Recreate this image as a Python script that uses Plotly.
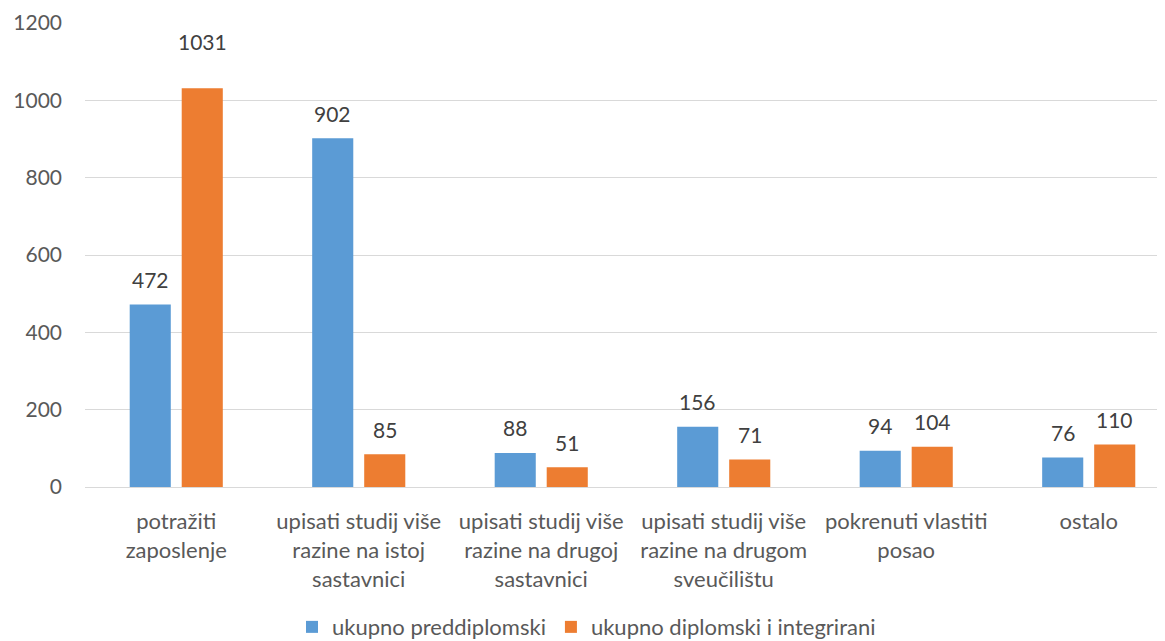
import plotly.graph_objects as go

categories = [
    "potražiti<br>zaposlenje",
    "upisati studij više<br>razine na istoj<br>sastavnici",
    "upisati studij više<br>razine na drugoj<br>sastavnici",
    "upisati studij više<br>razine na drugom<br>sveučilištu",
    "pokrenuti vlastiti<br>posao",
    "ostalo",
]
preddiplomski = [472, 902, 88, 156, 94, 76]
diplomski = [1031, 85, 51, 71, 104, 110]
y_ticks = [0, 200, 400, 600, 800, 1000, 1200]

FONT = "Lato, 'Noto Sans', sans-serif"

fig = go.Figure()
fig.add_trace(go.Bar(
    name="ukupno preddiplomski", x=categories, y=preddiplomski,
    marker=dict(color="#5B9BD5", line=dict(width=0)),
))
fig.add_trace(go.Bar(
    name="ukupno diplomski i integrirani", x=categories, y=diplomski,
    marker=dict(color="#ED7D31", line=dict(width=0)),
))

# data labels (the label of the tallest bar sits a bit higher, as in the source)
extra_lift = {(1, 0): 22}
for s, (vals, shift) in enumerate(((preddiplomski, -26), (diplomski, 26))):
    for i, (c, v) in enumerate(zip(categories, vals)):
        fig.add_annotation(x=c, y=v, xref="x", yref="y", text=str(v), showarrow=False,
                           xshift=shift, yshift=25 + extra_lift.get((s, i), 0),
                           yanchor="middle",
                           font=dict(family=FONT, size=21, color="#404040"))

fig.update_layout(
    width=1157, height=633,
    paper_bgcolor="white", plot_bgcolor="white",
    margin=dict(l=77, r=0, t=15, b=154, autoexpand=False),
    barmode="group", bargap=0.43, bargroupgap=0.21,
    font=dict(family=FONT, size=21, color="#595959"),
    showlegend=True,
    legend=dict(orientation="h", x=0.5, xanchor="center", xref="container",
                y=0.022, yanchor="middle", yref="container",
                font=dict(size=22, color="#595959"), traceorder="normal"),
    yaxis=dict(range=[0, 1200], tickvals=y_ticks, showgrid=True, gridcolor="#D9D9D9",
               gridwidth=1, zeroline=True, zerolinecolor="#D9D9D9", zerolinewidth=1,
               showline=False, ticks="", ticklen=0, automargin=False,
               ticklabelstandoff=22, tickfont=dict(size=21, color="#595959")),
    xaxis=dict(range=[-0.5, 5.418], showline=True, linecolor="#D9D9D9", ticks="",
               automargin=False, ticklabelstandoff=15,
               tickfont=dict(size=22, color="#595959")),
)

fig.write_html("out.html")
